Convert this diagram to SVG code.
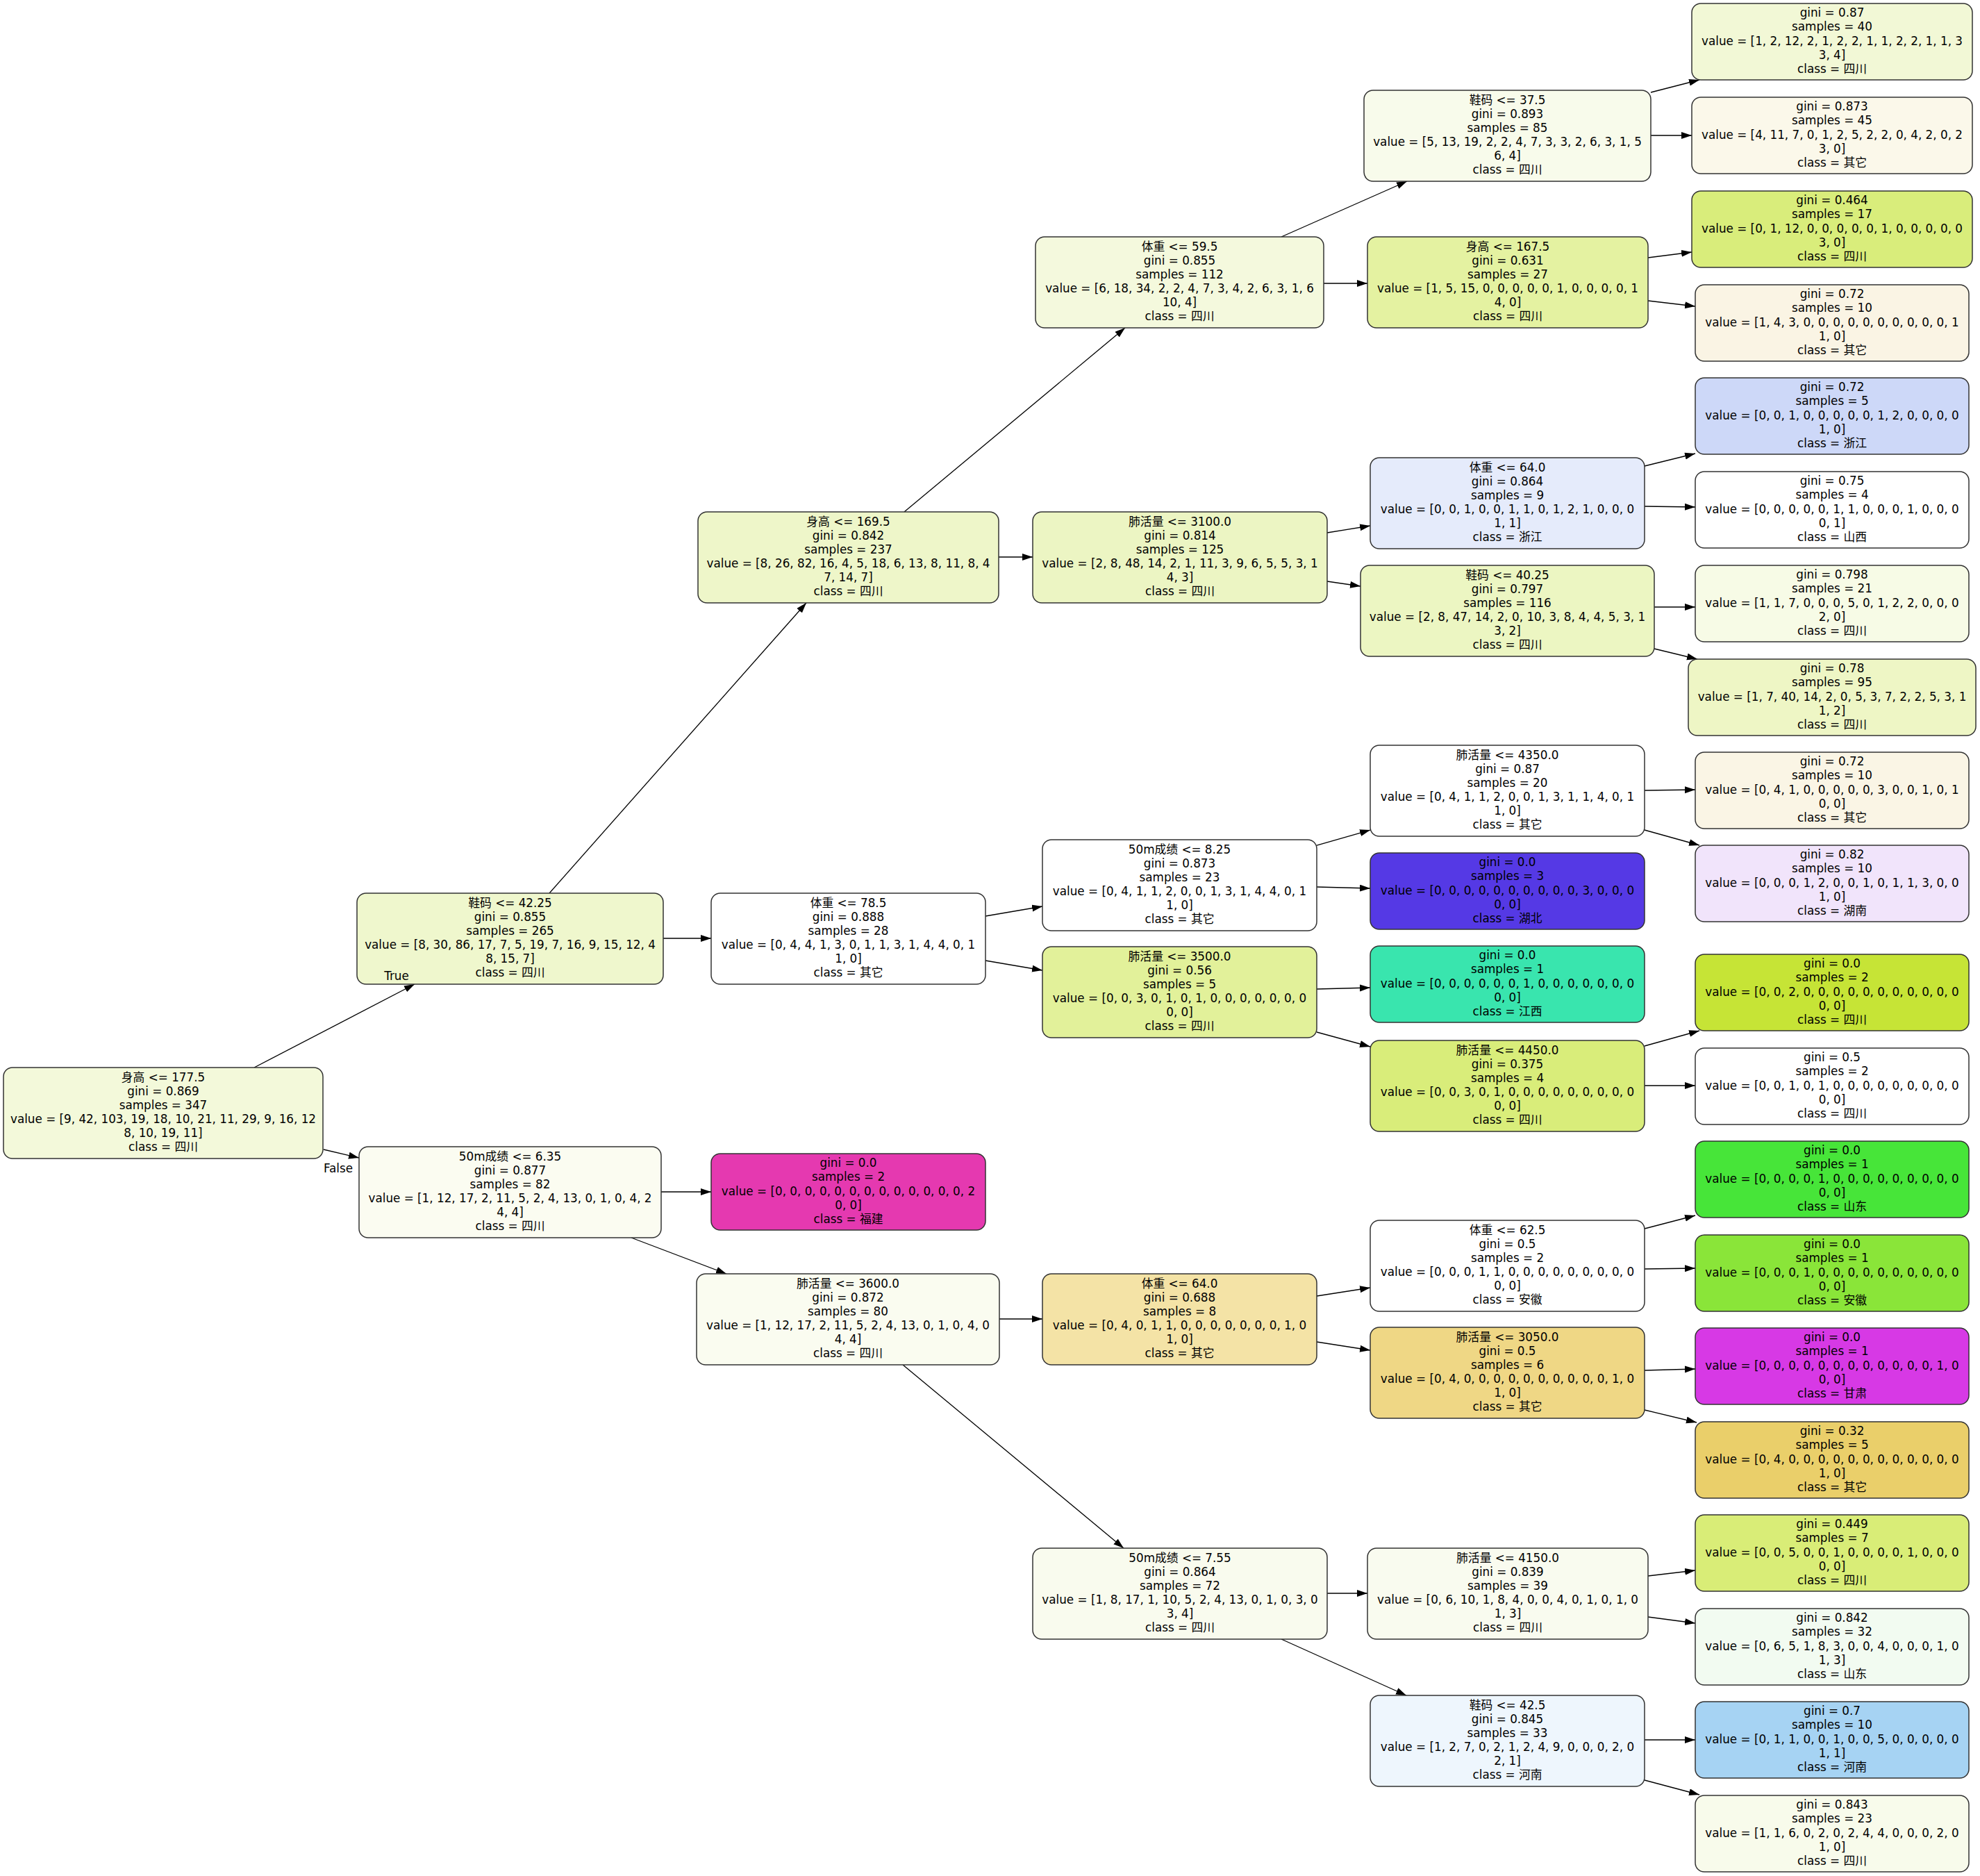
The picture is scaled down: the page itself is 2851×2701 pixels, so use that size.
<svg xmlns="http://www.w3.org/2000/svg" width="2851" height="2701" viewBox="0 0 2851 2701">
<style>
.node rect{stroke:#333;stroke-width:1.5}
text{font-family:"DejaVu Sans","Noto Sans CJK SC",sans-serif;font-size:16.8px;text-anchor:middle;fill:#000}
.edge line{stroke:#000;stroke-width:1.3;marker-end:url(#ah)}
</style>
<defs>
<marker id="ah" markerUnits="userSpaceOnUse" markerWidth="16" markerHeight="11" refX="15" refY="5" orient="auto"><path d="M0,0 L15,5 L0,10 z" fill="#000"/></marker>
</defs>
<rect width="2851" height="2701" fill="#fff"/>
<g id="edges" class="edge">
<line x1="366" y1="1537" x2="597" y2="1417"/>
<line x1="466" y1="1655" x2="517" y2="1667"/>
<line x1="791" y1="1286" x2="1161" y2="868"/>
<line x1="955" y1="1351" x2="1024" y2="1351"/>
<line x1="952" y1="1716" x2="1024" y2="1716"/>
<line x1="909" y1="1782" x2="1046" y2="1834"/>
<line x1="1302" y1="737" x2="1620" y2="472"/>
<line x1="1438" y1="802" x2="1487" y2="802"/>
<line x1="1419" y1="1319" x2="1501" y2="1305"/>
<line x1="1419" y1="1383" x2="1501" y2="1397"/>
<line x1="1439" y1="1899" x2="1501" y2="1899"/>
<line x1="1300" y1="1965" x2="1618" y2="2229"/>
<line x1="1845" y1="341" x2="2026" y2="261"/>
<line x1="1906" y1="408" x2="1969" y2="408"/>
<line x1="1911" y1="767" x2="1973" y2="757"/>
<line x1="1911" y1="837" x2="1959" y2="844"/>
<line x1="1896" y1="1217" x2="1973" y2="1195"/>
<line x1="1896" y1="1277" x2="1973" y2="1279"/>
<line x1="1896" y1="1424" x2="1973" y2="1422"/>
<line x1="1896" y1="1486" x2="1973" y2="1507"/>
<line x1="1896" y1="1866" x2="1973" y2="1854"/>
<line x1="1896" y1="1932" x2="1973" y2="1944"/>
<line x1="1911" y1="2294" x2="1969" y2="2294"/>
<line x1="1845" y1="2360" x2="2025" y2="2441"/>
<line x1="2377" y1="133" x2="2447" y2="115"/>
<line x1="2377" y1="195" x2="2436" y2="195"/>
<line x1="2373" y1="371" x2="2436" y2="363"/>
<line x1="2373" y1="433" x2="2441" y2="441"/>
<line x1="2368" y1="671" x2="2441" y2="653"/>
<line x1="2368" y1="729" x2="2441" y2="730"/>
<line x1="2382" y1="874" x2="2441" y2="874"/>
<line x1="2382" y1="934" x2="2444" y2="949"/>
<line x1="2368" y1="1138" x2="2441" y2="1137"/>
<line x1="2368" y1="1195" x2="2447" y2="1217"/>
<line x1="2368" y1="1506" x2="2447" y2="1484"/>
<line x1="2368" y1="1563" x2="2441" y2="1563"/>
<line x1="2368" y1="1769" x2="2441" y2="1750"/>
<line x1="2368" y1="1827" x2="2441" y2="1826"/>
<line x1="2368" y1="1973" x2="2441" y2="1971"/>
<line x1="2368" y1="2030" x2="2443" y2="2048"/>
<line x1="2373" y1="2269" x2="2441" y2="2261"/>
<line x1="2373" y1="2328" x2="2441" y2="2337"/>
<line x1="2368" y1="2505" x2="2441" y2="2505"/>
<line x1="2368" y1="2563" x2="2447" y2="2584"/>
</g>

<g id="n0" class="node"><rect x="5" y="1537" width="460" height="131" rx="13" fill="#f3f9da"/>
<text><tspan x="235" y="1556.75">身高 &lt;= 177.5</tspan><tspan x="235" dy="20.1">gini = 0.869</tspan><tspan x="235" dy="20.1">samples = 347</tspan><tspan x="235" dy="20.1">value = [9, 42, 103, 19, 18, 10, 21, 11, 29, 9, 16, 12</tspan><tspan x="235" dy="20.1">8, 10, 19, 11]</tspan><tspan x="235" dy="20.1">class = 四川</tspan></text></g>

<g id="n1" class="node"><rect x="514" y="1286" width="441" height="131" rx="13" fill="#eff7cd"/>
<text><tspan x="734.5" y="1305.75">鞋码 &lt;= 42.25</tspan><tspan x="734.5" dy="20.1">gini = 0.855</tspan><tspan x="734.5" dy="20.1">samples = 265</tspan><tspan x="734.5" dy="20.1">value = [8, 30, 86, 17, 7, 5, 19, 7, 16, 9, 15, 12, 4</tspan><tspan x="734.5" dy="20.1">8, 15, 7]</tspan><tspan x="734.5" dy="20.1">class = 四川</tspan></text></g>

<g id="n2" class="node"><rect x="517" y="1651" width="435" height="131" rx="13" fill="#fbfcf1"/>
<text><tspan x="734.5" y="1670.75">50m成绩 &lt;= 6.35</tspan><tspan x="734.5" dy="20.1">gini = 0.877</tspan><tspan x="734.5" dy="20.1">samples = 82</tspan><tspan x="734.5" dy="20.1">value = [1, 12, 17, 2, 11, 5, 2, 4, 13, 0, 1, 0, 4, 2</tspan><tspan x="734.5" dy="20.1">4, 4]</tspan><tspan x="734.5" dy="20.1">class = 四川</tspan></text></g>

<g id="n3" class="node"><rect x="1005" y="737" width="433" height="131" rx="13" fill="#eef6c9"/>
<text><tspan x="1221.5" y="756.75">身高 &lt;= 169.5</tspan><tspan x="1221.5" dy="20.1">gini = 0.842</tspan><tspan x="1221.5" dy="20.1">samples = 237</tspan><tspan x="1221.5" dy="20.1">value = [8, 26, 82, 16, 4, 5, 18, 6, 13, 8, 11, 8, 4</tspan><tspan x="1221.5" dy="20.1">7, 14, 7]</tspan><tspan x="1221.5" dy="20.1">class = 四川</tspan></text></g>

<g id="n4" class="node"><rect x="1024" y="1286" width="395" height="131" rx="13" fill="#ffffff"/>
<text><tspan x="1221.5" y="1305.75">体重 &lt;= 78.5</tspan><tspan x="1221.5" dy="20.1">gini = 0.888</tspan><tspan x="1221.5" dy="20.1">samples = 28</tspan><tspan x="1221.5" dy="20.1">value = [0, 4, 4, 1, 3, 0, 1, 1, 3, 1, 4, 4, 0, 1</tspan><tspan x="1221.5" dy="20.1">1, 0]</tspan><tspan x="1221.5" dy="20.1">class = 其它</tspan></text></g>

<g id="n5" class="node"><rect x="1024" y="1661" width="395" height="110" rx="13" fill="#e539b0"/>
<text><tspan x="1221.5" y="1680.3">gini = 0.0</tspan><tspan x="1221.5" dy="20.1">samples = 2</tspan><tspan x="1221.5" dy="20.1">value = [0, 0, 0, 0, 0, 0, 0, 0, 0, 0, 0, 0, 0, 2</tspan><tspan x="1221.5" dy="20.1">0, 0]</tspan><tspan x="1221.5" dy="20.1">class = 福建</tspan></text></g>

<g id="n6" class="node"><rect x="1003" y="1834" width="436" height="131" rx="13" fill="#fafcf0"/>
<text><tspan x="1221" y="1853.75">肺活量 &lt;= 3600.0</tspan><tspan x="1221" dy="20.1">gini = 0.872</tspan><tspan x="1221" dy="20.1">samples = 80</tspan><tspan x="1221" dy="20.1">value = [1, 12, 17, 2, 11, 5, 2, 4, 13, 0, 1, 0, 4, 0</tspan><tspan x="1221" dy="20.1">4, 4]</tspan><tspan x="1221" dy="20.1">class = 四川</tspan></text></g>

<g id="n7" class="node"><rect x="1491" y="341" width="415" height="131" rx="13" fill="#f4f9dd"/>
<text><tspan x="1698.5" y="360.75">体重 &lt;= 59.5</tspan><tspan x="1698.5" dy="20.1">gini = 0.855</tspan><tspan x="1698.5" dy="20.1">samples = 112</tspan><tspan x="1698.5" dy="20.1">value = [6, 18, 34, 2, 2, 4, 7, 3, 4, 2, 6, 3, 1, 6</tspan><tspan x="1698.5" dy="20.1">10, 4]</tspan><tspan x="1698.5" dy="20.1">class = 四川</tspan></text></g>

<g id="n8" class="node"><rect x="1487" y="737" width="424" height="131" rx="13" fill="#ecf5c3"/>
<text><tspan x="1699" y="756.75">肺活量 &lt;= 3100.0</tspan><tspan x="1699" dy="20.1">gini = 0.814</tspan><tspan x="1699" dy="20.1">samples = 125</tspan><tspan x="1699" dy="20.1">value = [2, 8, 48, 14, 2, 1, 11, 3, 9, 6, 5, 5, 3, 1</tspan><tspan x="1699" dy="20.1">4, 3]</tspan><tspan x="1699" dy="20.1">class = 四川</tspan></text></g>

<g id="n9" class="node"><rect x="1501" y="1209" width="395" height="131" rx="13" fill="#ffffff"/>
<text><tspan x="1698.5" y="1228.75">50m成绩 &lt;= 8.25</tspan><tspan x="1698.5" dy="20.1">gini = 0.873</tspan><tspan x="1698.5" dy="20.1">samples = 23</tspan><tspan x="1698.5" dy="20.1">value = [0, 4, 1, 1, 2, 0, 0, 1, 3, 1, 4, 4, 0, 1</tspan><tspan x="1698.5" dy="20.1">1, 0]</tspan><tspan x="1698.5" dy="20.1">class = 其它</tspan></text></g>

<g id="n10" class="node"><rect x="1501" y="1363" width="395" height="131" rx="13" fill="#e2f19a"/>
<text><tspan x="1698.5" y="1382.75">肺活量 &lt;= 3500.0</tspan><tspan x="1698.5" dy="20.1">gini = 0.56</tspan><tspan x="1698.5" dy="20.1">samples = 5</tspan><tspan x="1698.5" dy="20.1">value = [0, 0, 3, 0, 1, 0, 1, 0, 0, 0, 0, 0, 0, 0</tspan><tspan x="1698.5" dy="20.1">0, 0]</tspan><tspan x="1698.5" dy="20.1">class = 四川</tspan></text></g>

<g id="n11" class="node"><rect x="1501" y="1834" width="395" height="131" rx="13" fill="#f4e3a6"/>
<text><tspan x="1698.5" y="1853.75">体重 &lt;= 64.0</tspan><tspan x="1698.5" dy="20.1">gini = 0.688</tspan><tspan x="1698.5" dy="20.1">samples = 8</tspan><tspan x="1698.5" dy="20.1">value = [0, 4, 0, 1, 1, 0, 0, 0, 0, 0, 0, 0, 1, 0</tspan><tspan x="1698.5" dy="20.1">1, 0]</tspan><tspan x="1698.5" dy="20.1">class = 其它</tspan></text></g>

<g id="n12" class="node"><rect x="1487" y="2229" width="424" height="131" rx="13" fill="#f9fbee"/>
<text><tspan x="1699" y="2248.75">50m成绩 &lt;= 7.55</tspan><tspan x="1699" dy="20.1">gini = 0.864</tspan><tspan x="1699" dy="20.1">samples = 72</tspan><tspan x="1699" dy="20.1">value = [1, 8, 17, 1, 10, 5, 2, 4, 13, 0, 1, 0, 3, 0</tspan><tspan x="1699" dy="20.1">3, 4]</tspan><tspan x="1699" dy="20.1">class = 四川</tspan></text></g>

<g id="n13" class="node"><rect x="1964" y="130" width="413" height="131" rx="13" fill="#f8fbeb"/>
<text><tspan x="2170.5" y="149.75">鞋码 &lt;= 37.5</tspan><tspan x="2170.5" dy="20.1">gini = 0.893</tspan><tspan x="2170.5" dy="20.1">samples = 85</tspan><tspan x="2170.5" dy="20.1">value = [5, 13, 19, 2, 2, 4, 7, 3, 3, 2, 6, 3, 1, 5</tspan><tspan x="2170.5" dy="20.1">6, 4]</tspan><tspan x="2170.5" dy="20.1">class = 四川</tspan></text></g>

<g id="n14" class="node"><rect x="1969" y="341" width="404" height="131" rx="13" fill="#e4f2a1"/>
<text><tspan x="2171" y="360.75">身高 &lt;= 167.5</tspan><tspan x="2171" dy="20.1">gini = 0.631</tspan><tspan x="2171" dy="20.1">samples = 27</tspan><tspan x="2171" dy="20.1">value = [1, 5, 15, 0, 0, 0, 0, 0, 1, 0, 0, 0, 0, 1</tspan><tspan x="2171" dy="20.1">4, 0]</tspan><tspan x="2171" dy="20.1">class = 四川</tspan></text></g>

<g id="n15" class="node"><rect x="1973" y="659" width="395" height="131" rx="13" fill="#e5ebfb"/>
<text><tspan x="2170.5" y="678.75">体重 &lt;= 64.0</tspan><tspan x="2170.5" dy="20.1">gini = 0.864</tspan><tspan x="2170.5" dy="20.1">samples = 9</tspan><tspan x="2170.5" dy="20.1">value = [0, 0, 1, 0, 0, 1, 1, 0, 1, 2, 1, 0, 0, 0</tspan><tspan x="2170.5" dy="20.1">1, 1]</tspan><tspan x="2170.5" dy="20.1">class = 浙江</tspan></text></g>

<g id="n16" class="node"><rect x="1959" y="814" width="423" height="131" rx="13" fill="#ecf6c2"/>
<text><tspan x="2170.5" y="833.75">鞋码 &lt;= 40.25</tspan><tspan x="2170.5" dy="20.1">gini = 0.797</tspan><tspan x="2170.5" dy="20.1">samples = 116</tspan><tspan x="2170.5" dy="20.1">value = [2, 8, 47, 14, 2, 0, 10, 3, 8, 4, 4, 5, 3, 1</tspan><tspan x="2170.5" dy="20.1">3, 2]</tspan><tspan x="2170.5" dy="20.1">class = 四川</tspan></text></g>

<g id="n17" class="node"><rect x="1973" y="1073" width="395" height="131" rx="13" fill="#ffffff"/>
<text><tspan x="2170.5" y="1092.75">肺活量 &lt;= 4350.0</tspan><tspan x="2170.5" dy="20.1">gini = 0.87</tspan><tspan x="2170.5" dy="20.1">samples = 20</tspan><tspan x="2170.5" dy="20.1">value = [0, 4, 1, 1, 2, 0, 0, 1, 3, 1, 1, 4, 0, 1</tspan><tspan x="2170.5" dy="20.1">1, 0]</tspan><tspan x="2170.5" dy="20.1">class = 其它</tspan></text></g>

<g id="n18" class="node"><rect x="1973" y="1228" width="395" height="110" rx="13" fill="#5539e5"/>
<text><tspan x="2170.5" y="1247.3">gini = 0.0</tspan><tspan x="2170.5" dy="20.1">samples = 3</tspan><tspan x="2170.5" dy="20.1">value = [0, 0, 0, 0, 0, 0, 0, 0, 0, 0, 3, 0, 0, 0</tspan><tspan x="2170.5" dy="20.1">0, 0]</tspan><tspan x="2170.5" dy="20.1">class = 湖北</tspan></text></g>

<g id="n19" class="node"><rect x="1973" y="1362" width="395" height="110" rx="13" fill="#39e5ae"/>
<text><tspan x="2170.5" y="1381.3">gini = 0.0</tspan><tspan x="2170.5" dy="20.1">samples = 1</tspan><tspan x="2170.5" dy="20.1">value = [0, 0, 0, 0, 0, 0, 1, 0, 0, 0, 0, 0, 0, 0</tspan><tspan x="2170.5" dy="20.1">0, 0]</tspan><tspan x="2170.5" dy="20.1">class = 江西</tspan></text></g>

<g id="n20" class="node"><rect x="1973" y="1498" width="395" height="131" rx="13" fill="#d9ed7a"/>
<text><tspan x="2170.5" y="1517.75">肺活量 &lt;= 4450.0</tspan><tspan x="2170.5" dy="20.1">gini = 0.375</tspan><tspan x="2170.5" dy="20.1">samples = 4</tspan><tspan x="2170.5" dy="20.1">value = [0, 0, 3, 0, 1, 0, 0, 0, 0, 0, 0, 0, 0, 0</tspan><tspan x="2170.5" dy="20.1">0, 0]</tspan><tspan x="2170.5" dy="20.1">class = 四川</tspan></text></g>

<g id="n21" class="node"><rect x="1973" y="1757" width="395" height="131" rx="13" fill="#ffffff"/>
<text><tspan x="2170.5" y="1776.75">体重 &lt;= 62.5</tspan><tspan x="2170.5" dy="20.1">gini = 0.5</tspan><tspan x="2170.5" dy="20.1">samples = 2</tspan><tspan x="2170.5" dy="20.1">value = [0, 0, 0, 1, 1, 0, 0, 0, 0, 0, 0, 0, 0, 0</tspan><tspan x="2170.5" dy="20.1">0, 0]</tspan><tspan x="2170.5" dy="20.1">class = 安徽</tspan></text></g>

<g id="n22" class="node"><rect x="1973" y="1911" width="395" height="131" rx="13" fill="#efd785"/>
<text><tspan x="2170.5" y="1930.75">肺活量 &lt;= 3050.0</tspan><tspan x="2170.5" dy="20.1">gini = 0.5</tspan><tspan x="2170.5" dy="20.1">samples = 6</tspan><tspan x="2170.5" dy="20.1">value = [0, 4, 0, 0, 0, 0, 0, 0, 0, 0, 0, 0, 1, 0</tspan><tspan x="2170.5" dy="20.1">1, 0]</tspan><tspan x="2170.5" dy="20.1">class = 其它</tspan></text></g>

<g id="n23" class="node"><rect x="1969" y="2229" width="404" height="131" rx="13" fill="#f9fbef"/>
<text><tspan x="2171" y="2248.75">肺活量 &lt;= 4150.0</tspan><tspan x="2171" dy="20.1">gini = 0.839</tspan><tspan x="2171" dy="20.1">samples = 39</tspan><tspan x="2171" dy="20.1">value = [0, 6, 10, 1, 8, 4, 0, 0, 4, 0, 1, 0, 1, 0</tspan><tspan x="2171" dy="20.1">1, 3]</tspan><tspan x="2171" dy="20.1">class = 四川</tspan></text></g>

<g id="n24" class="node"><rect x="1973" y="2441" width="395" height="131" rx="13" fill="#eef6fd"/>
<text><tspan x="2170.5" y="2460.75">鞋码 &lt;= 42.5</tspan><tspan x="2170.5" dy="20.1">gini = 0.845</tspan><tspan x="2170.5" dy="20.1">samples = 33</tspan><tspan x="2170.5" dy="20.1">value = [1, 2, 7, 0, 2, 1, 2, 4, 9, 0, 0, 0, 2, 0</tspan><tspan x="2170.5" dy="20.1">2, 1]</tspan><tspan x="2170.5" dy="20.1">class = 河南</tspan></text></g>

<g id="l1" class="node"><rect x="2436" y="5" width="404" height="110" rx="13" fill="#f2f8d6"/>
<text><tspan x="2638" y="24.3">gini = 0.87</tspan><tspan x="2638" dy="20.1">samples = 40</tspan><tspan x="2638" dy="20.1">value = [1, 2, 12, 2, 1, 2, 2, 1, 1, 2, 2, 1, 1, 3</tspan><tspan x="2638" dy="20.1">3, 4]</tspan><tspan x="2638" dy="20.1">class = 四川</tspan></text></g>

<g id="l2" class="node"><rect x="2436" y="140" width="404" height="110" rx="13" fill="#fbf8ea"/>
<text><tspan x="2638" y="159.3">gini = 0.873</tspan><tspan x="2638" dy="20.1">samples = 45</tspan><tspan x="2638" dy="20.1">value = [4, 11, 7, 0, 1, 2, 5, 2, 2, 0, 4, 2, 0, 2</tspan><tspan x="2638" dy="20.1">3, 0]</tspan><tspan x="2638" dy="20.1">class = 其它</tspan></text></g>

<g id="l3" class="node"><rect x="2436" y="275" width="404" height="110" rx="13" fill="#d9ed7b"/>
<text><tspan x="2638" y="294.3">gini = 0.464</tspan><tspan x="2638" dy="20.1">samples = 17</tspan><tspan x="2638" dy="20.1">value = [0, 1, 12, 0, 0, 0, 0, 0, 1, 0, 0, 0, 0, 0</tspan><tspan x="2638" dy="20.1">3, 0]</tspan><tspan x="2638" dy="20.1">class = 四川</tspan></text></g>

<g id="l4" class="node"><rect x="2441" y="410" width="394" height="110" rx="13" fill="#faf4e4"/>
<text><tspan x="2638" y="429.3">gini = 0.72</tspan><tspan x="2638" dy="20.1">samples = 10</tspan><tspan x="2638" dy="20.1">value = [1, 4, 3, 0, 0, 0, 0, 0, 0, 0, 0, 0, 0, 1</tspan><tspan x="2638" dy="20.1">1, 0]</tspan><tspan x="2638" dy="20.1">class = 其它</tspan></text></g>

<g id="l5" class="node"><rect x="2441" y="544" width="394" height="110" rx="13" fill="#cdd8f8"/>
<text><tspan x="2638" y="563.3">gini = 0.72</tspan><tspan x="2638" dy="20.1">samples = 5</tspan><tspan x="2638" dy="20.1">value = [0, 0, 1, 0, 0, 0, 0, 0, 1, 2, 0, 0, 0, 0</tspan><tspan x="2638" dy="20.1">1, 0]</tspan><tspan x="2638" dy="20.1">class = 浙江</tspan></text></g>

<g id="l6" class="node"><rect x="2441" y="679" width="394" height="110" rx="13" fill="#ffffff"/>
<text><tspan x="2638" y="698.3">gini = 0.75</tspan><tspan x="2638" dy="20.1">samples = 4</tspan><tspan x="2638" dy="20.1">value = [0, 0, 0, 0, 0, 1, 1, 0, 0, 0, 1, 0, 0, 0</tspan><tspan x="2638" dy="20.1">0, 1]</tspan><tspan x="2638" dy="20.1">class = 山西</tspan></text></g>

<g id="l7" class="node"><rect x="2441" y="814" width="394" height="110" rx="13" fill="#f7fbe6"/>
<text><tspan x="2638" y="833.3">gini = 0.798</tspan><tspan x="2638" dy="20.1">samples = 21</tspan><tspan x="2638" dy="20.1">value = [1, 1, 7, 0, 0, 0, 5, 0, 1, 2, 2, 0, 0, 0</tspan><tspan x="2638" dy="20.1">2, 0]</tspan><tspan x="2638" dy="20.1">class = 四川</tspan></text></g>

<g id="l8" class="node"><rect x="2431" y="949" width="414" height="110" rx="13" fill="#eef6c5"/>
<text><tspan x="2638" y="968.3">gini = 0.78</tspan><tspan x="2638" dy="20.1">samples = 95</tspan><tspan x="2638" dy="20.1">value = [1, 7, 40, 14, 2, 0, 5, 3, 7, 2, 2, 5, 3, 1</tspan><tspan x="2638" dy="20.1">1, 2]</tspan><tspan x="2638" dy="20.1">class = 四川</tspan></text></g>

<g id="l9" class="node"><rect x="2441" y="1083" width="394" height="110" rx="13" fill="#faf5e5"/>
<text><tspan x="2638" y="1102.3">gini = 0.72</tspan><tspan x="2638" dy="20.1">samples = 10</tspan><tspan x="2638" dy="20.1">value = [0, 4, 1, 0, 0, 0, 0, 0, 3, 0, 0, 1, 0, 1</tspan><tspan x="2638" dy="20.1">0, 0]</tspan><tspan x="2638" dy="20.1">class = 其它</tspan></text></g>

<g id="l10" class="node"><rect x="2441" y="1217" width="394" height="110" rx="13" fill="#f1e4fb"/>
<text><tspan x="2638" y="1236.3">gini = 0.82</tspan><tspan x="2638" dy="20.1">samples = 10</tspan><tspan x="2638" dy="20.1">value = [0, 0, 0, 1, 2, 0, 0, 1, 0, 1, 1, 3, 0, 0</tspan><tspan x="2638" dy="20.1">1, 0]</tspan><tspan x="2638" dy="20.1">class = 湖南</tspan></text></g>

<g id="l11" class="node"><rect x="2441" y="1374" width="394" height="110" rx="13" fill="#c6e436"/>
<text><tspan x="2638" y="1393.3">gini = 0.0</tspan><tspan x="2638" dy="20.1">samples = 2</tspan><tspan x="2638" dy="20.1">value = [0, 0, 2, 0, 0, 0, 0, 0, 0, 0, 0, 0, 0, 0</tspan><tspan x="2638" dy="20.1">0, 0]</tspan><tspan x="2638" dy="20.1">class = 四川</tspan></text></g>

<g id="l12" class="node"><rect x="2441" y="1509" width="394" height="110" rx="13" fill="#ffffff"/>
<text><tspan x="2638" y="1528.3">gini = 0.5</tspan><tspan x="2638" dy="20.1">samples = 2</tspan><tspan x="2638" dy="20.1">value = [0, 0, 1, 0, 1, 0, 0, 0, 0, 0, 0, 0, 0, 0</tspan><tspan x="2638" dy="20.1">0, 0]</tspan><tspan x="2638" dy="20.1">class = 四川</tspan></text></g>

<g id="l13" class="node"><rect x="2441" y="1643" width="394" height="110" rx="13" fill="#47e539"/>
<text><tspan x="2638" y="1662.3">gini = 0.0</tspan><tspan x="2638" dy="20.1">samples = 1</tspan><tspan x="2638" dy="20.1">value = [0, 0, 0, 0, 1, 0, 0, 0, 0, 0, 0, 0, 0, 0</tspan><tspan x="2638" dy="20.1">0, 0]</tspan><tspan x="2638" dy="20.1">class = 山东</tspan></text></g>

<g id="l14" class="node"><rect x="2441" y="1778" width="394" height="110" rx="13" fill="#8ae539"/>
<text><tspan x="2638" y="1797.3">gini = 0.0</tspan><tspan x="2638" dy="20.1">samples = 1</tspan><tspan x="2638" dy="20.1">value = [0, 0, 0, 1, 0, 0, 0, 0, 0, 0, 0, 0, 0, 0</tspan><tspan x="2638" dy="20.1">0, 0]</tspan><tspan x="2638" dy="20.1">class = 安徽</tspan></text></g>

<g id="l15" class="node"><rect x="2441" y="1912" width="394" height="110" rx="13" fill="#d739e5"/>
<text><tspan x="2638" y="1931.3">gini = 0.0</tspan><tspan x="2638" dy="20.1">samples = 1</tspan><tspan x="2638" dy="20.1">value = [0, 0, 0, 0, 0, 0, 0, 0, 0, 0, 0, 0, 1, 0</tspan><tspan x="2638" dy="20.1">0, 0]</tspan><tspan x="2638" dy="20.1">class = 甘肃</tspan></text></g>

<g id="l16" class="node"><rect x="2441" y="2047" width="394" height="110" rx="13" fill="#eacf6a"/>
<text><tspan x="2638" y="2066.3">gini = 0.32</tspan><tspan x="2638" dy="20.1">samples = 5</tspan><tspan x="2638" dy="20.1">value = [0, 4, 0, 0, 0, 0, 0, 0, 0, 0, 0, 0, 0, 0</tspan><tspan x="2638" dy="20.1">1, 0]</tspan><tspan x="2638" dy="20.1">class = 其它</tspan></text></g>

<g id="l17" class="node"><rect x="2441" y="2181" width="394" height="110" rx="13" fill="#d9ed77"/>
<text><tspan x="2638" y="2200.3">gini = 0.449</tspan><tspan x="2638" dy="20.1">samples = 7</tspan><tspan x="2638" dy="20.1">value = [0, 0, 5, 0, 0, 1, 0, 0, 0, 0, 1, 0, 0, 0</tspan><tspan x="2638" dy="20.1">0, 0]</tspan><tspan x="2638" dy="20.1">class = 四川</tspan></text></g>

<g id="l18" class="node"><rect x="2441" y="2316" width="394" height="110" rx="13" fill="#f2fbf1"/>
<text><tspan x="2638" y="2335.3">gini = 0.842</tspan><tspan x="2638" dy="20.1">samples = 32</tspan><tspan x="2638" dy="20.1">value = [0, 6, 5, 1, 8, 3, 0, 0, 4, 0, 0, 0, 1, 0</tspan><tspan x="2638" dy="20.1">1, 3]</tspan><tspan x="2638" dy="20.1">class = 山东</tspan></text></g>

<g id="l19" class="node"><rect x="2441" y="2450" width="394" height="110" rx="13" fill="#a6d3f3"/>
<text><tspan x="2638" y="2469.3">gini = 0.7</tspan><tspan x="2638" dy="20.1">samples = 10</tspan><tspan x="2638" dy="20.1">value = [0, 1, 1, 0, 0, 1, 0, 0, 5, 0, 0, 0, 0, 0</tspan><tspan x="2638" dy="20.1">1, 1]</tspan><tspan x="2638" dy="20.1">class = 河南</tspan></text></g>

<g id="l20" class="node"><rect x="2441" y="2585" width="394" height="110" rx="13" fill="#f8fbeb"/>
<text><tspan x="2638" y="2604.3">gini = 0.843</tspan><tspan x="2638" dy="20.1">samples = 23</tspan><tspan x="2638" dy="20.1">value = [1, 1, 6, 0, 2, 0, 2, 4, 4, 0, 0, 0, 2, 0</tspan><tspan x="2638" dy="20.1">1, 0]</tspan><tspan x="2638" dy="20.1">class = 四川</tspan></text></g>

<g id="edge-labels">
<text x="571" y="1411">True</text>
<text x="487" y="1688">False</text>
</g>
</svg>
